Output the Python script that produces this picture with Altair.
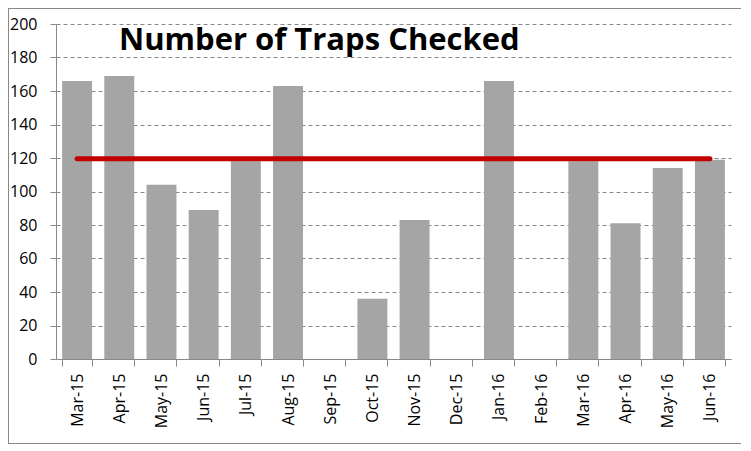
import altair as alt
import pandas as pd

months = ["Mar-15", "Apr-15", "May-15", "Jun-15", "Jul-15", "Aug-15", "Sep-15", "Oct-15",
          "Nov-15", "Dec-15", "Jan-16", "Feb-16", "Mar-16", "Apr-16", "May-16", "Jun-16"]
traps = [166, 169, 104, 89, 118, 163, 0, 36, 83, 0, 166, 0, 118, 81, 114, 119]
avg_ends = ["Mar-15", "Jun-16"]
avg_value = [119.5, 119.5]
y_ticks = list(range(0, 201, 20))

df = pd.DataFrame({"month": months, "traps": traps})
avg_df = pd.DataFrame({"month": avg_ends, "traps": avg_value})

FONT = "Open Sans"

x_enc = alt.X(
    "month:N", sort=months, title=None,
    scale=alt.Scale(paddingInner=0.29, paddingOuter=0.145),
    axis=alt.Axis(labelAngle=-90, labelFont=FONT, labelFontSize=16, labelColor="black",
                  domainColor="#888888", tickColor="#888888", tickSize=7, tickBand="extent",
                  labelPadding=7, labelAlign="right", labelBaseline="middle",
                  labelOverlap=False, grid=False),
)
y_enc = alt.Y(
    "traps:Q", title=None,
    scale=alt.Scale(domain=[0, 200], nice=False),
    axis=alt.Axis(values=y_ticks, labelFont=FONT, labelFontSize=16, labelColor="black",
                  domainColor="#888888", tickColor="#888888", tickSize=6, labelPadding=13,
                  labelOverlap=False,
                  grid=True, gridColor="#888888", gridDash=[4, 3], gridWidth=1),
)

bars = alt.Chart(df).mark_bar(color="#A5A5A5").encode(x=x_enc, y=y_enc)

line = alt.Chart(avg_df).mark_line(color="#C00000", strokeWidth=5, strokeCap="round").encode(
    x=x_enc, y=y_enc)

border = alt.Chart(df).mark_rect(fill=None, stroke="#888888", strokeWidth=1).encode(
    x=alt.value(-47.5), x2=alt.value(685.5), y=alt.value(-15.5), y2=alt.value(419.5))

chart = alt.layer(bars, line, border).properties(
    width=675, height=335,
    autosize=alt.AutoSizeParams(type="none"),
    padding={"left": 48, "top": 16, "right": 10, "bottom": 85},
    title=alt.TitleParams("Number of Traps Checked", anchor="start", orient="top",
                          font=FONT, fontSize=31, fontWeight="bold", color="black",
                          dx=111, offset=-73, baseline="alphabetic"),
).configure_view(stroke=None)

chart.save("out.html", embed_options={"renderer": "svg", "actions": False})
